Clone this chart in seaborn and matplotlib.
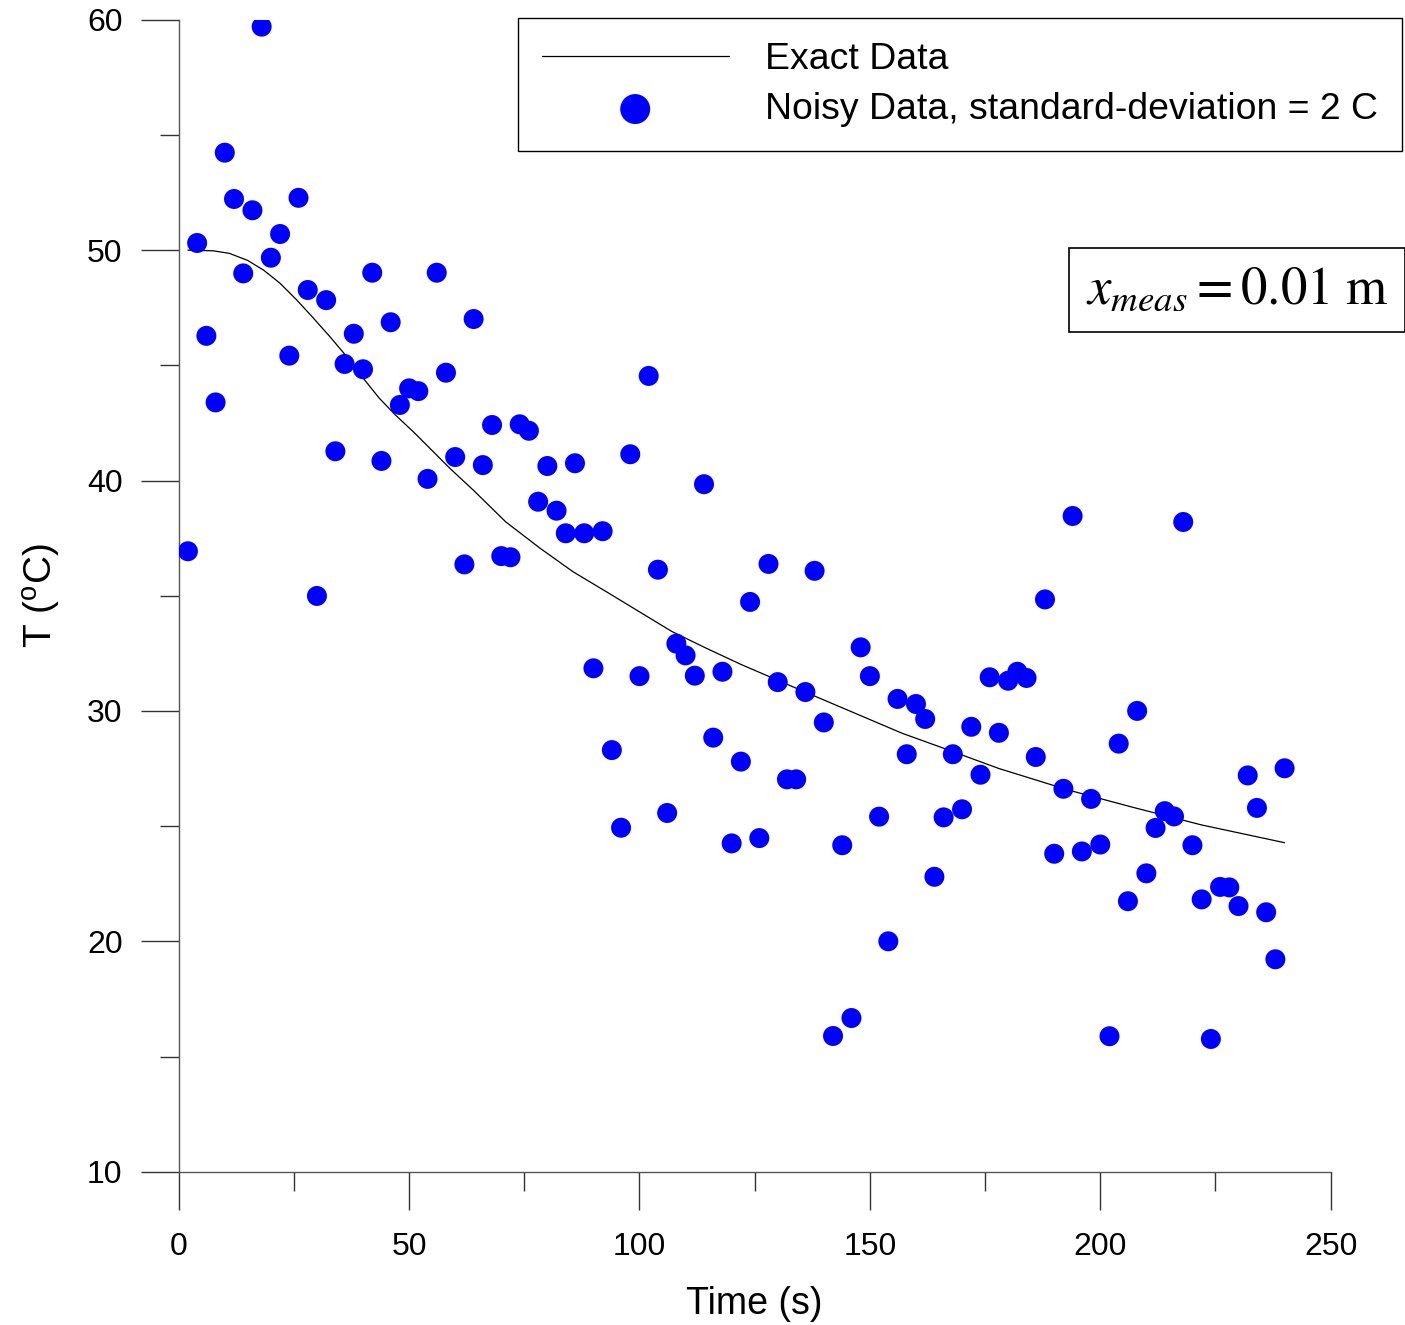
import numpy as np
import pandas as pd
import matplotlib
matplotlib.use('Agg')
import matplotlib.pyplot as plt
import seaborn as sns
from matplotlib.ticker import MultipleLocator

time_s = list(range(2, 242, 2))
temp_noisy = [36.93, 50.31, 46.28, 43.39, 54.23, 52.22, 48.99, 51.73, 59.70, 49.67,
              50.70, 45.42, 52.27, 48.27, 34.99, 47.83, 41.27, 45.06, 46.37, 44.83,
              49.02, 40.85, 46.87, 43.28, 44.00, 43.88, 40.07, 49.02, 44.68, 41.02,
              36.36, 47.01, 40.67, 42.41, 36.72, 36.67, 42.44, 42.16, 39.08, 40.63,
              38.69, 37.71, 40.75, 37.71, 31.85, 37.80, 28.30, 24.93, 41.14, 31.51,
              44.54, 36.13, 25.57, 32.92, 32.41, 31.53, 39.84, 28.84, 31.70, 24.25,
              27.80, 34.73, 24.48, 36.38, 31.25, 27.03, 27.03, 30.82, 36.08, 29.50,
              15.89, 24.17, 16.67, 32.76, 31.51, 25.41, 20.00, 30.52, 28.12, 30.30,
              29.65, 22.80, 25.38, 28.12, 25.73, 29.31, 27.23, 31.46, 29.05, 31.31,
              31.70, 31.43, 28.00, 34.84, 23.80, 26.62, 38.46, 23.90, 26.18, 24.20,
              15.88, 28.58, 21.74, 30.00, 22.95, 24.92, 25.65, 25.42, 38.20, 24.17,
              21.82, 15.76, 22.36, 22.34, 21.53, 27.20, 25.79, 21.26, 19.22, 27.51]

# exact curve
time_exact = [2, 7.5, 11, 15, 18.5, 22, 25.5, 29, 33, 36.5, 40, 43.5, 47, 51, 54.5,
              59, 64, 71, 78.5, 85.5, 93, 100, 107, 114.5, 122, 135, 157, 166, 178,
              193, 207, 222, 240]
temp_exact = [50.0, 49.97, 49.86, 49.55, 49.12, 48.56, 47.86, 47.1, 46.2, 45.37,
              44.45, 43.58, 42.85, 42.1, 41.4, 40.5, 39.57, 38.2, 37.05, 36.05, 35.15,
              34.3, 33.45, 32.72, 32.02, 30.9, 29.03, 28.38, 27.5, 26.57, 25.82,
              25.05, 24.28]

noisy = pd.DataFrame({'t': time_s, 'T': temp_noisy})
exact = pd.DataFrame({'t': time_exact, 'T': temp_exact})

sns.set_style('ticks')
plt.rcParams['font.family'] = ['Liberation Sans', 'DejaVu Sans']
plt.rcParams['text.color'] = 'black'
plt.rcParams['axes.labelcolor'] = 'black'
plt.rcParams['xtick.labelcolor'] = 'black'
plt.rcParams['ytick.labelcolor'] = 'black'

fig = plt.figure(figsize=(14.05, 13.25), dpi=100)
ax = fig.add_axes([0.1272, 0.1157, 0.9471 - 0.1272, 0.9851 - 0.1157])

sns.lineplot(data=exact, x='t', y='T', color='black', linewidth=0.9,
             label='Exact Data', ax=ax)
sns.scatterplot(data=noisy, x='t', y='T', s=207, color='#0000ff', edgecolor='none',
                label='Noisy Data, standard-deviation = 2 C', ax=ax, zorder=3)

ax.set_xlim(0, 250)
ax.set_ylim(10, 60)
ax.xaxis.set_major_locator(MultipleLocator(50))
ax.xaxis.set_minor_locator(MultipleLocator(25))
ax.yaxis.set_major_locator(MultipleLocator(10))
ax.yaxis.set_minor_locator(MultipleLocator(5))
ax.tick_params(which='major', length=27.4, width=1.0, color='#333333',
               labelsize=23, direction='out')
ax.tick_params(which='minor', length=13.7, width=1.0, color='#333333', direction='out')
ax.tick_params(axis='x', which='major', pad=16)
ax.tick_params(axis='y', which='major', pad=13)

sns.despine(ax=ax)
for side in ['left', 'bottom']:
    ax.spines[side].set_color('#555555')
    ax.spines[side].set_linewidth(1.0)

ax.set_xlabel('Time (s)', fontsize=27, labelpad=17)
ax.set_ylabel(r'T ($\mathregular{^o}$C)', fontsize=28, labelpad=17)

leg = ax.legend(loc='upper right', bbox_to_anchor=(1402 / 1405, 1 - 18 / 1325),
                bbox_transform=fig.transFigure, borderaxespad=0, fontsize=26.9,
                frameon=True, fancybox=False, edgecolor='black', framealpha=1,
                handlelength=5.0, handletextpad=0.98, borderpad=0.64,
                labelspacing=0.4, markerscale=1.5)
leg.get_frame().set_linewidth(1.0)

fig.text(1086 / 1405, 1 - 290 / 1325, r'$x_{meas} = 0.01\ \mathrm{m}$',
         fontsize=38, math_fontfamily='stix', ha='left', va='center',
         bbox=dict(boxstyle='square,pad=0.32', fc='white', ec='black', lw=1.2))

fig.savefig('out.png', dpi=100)
